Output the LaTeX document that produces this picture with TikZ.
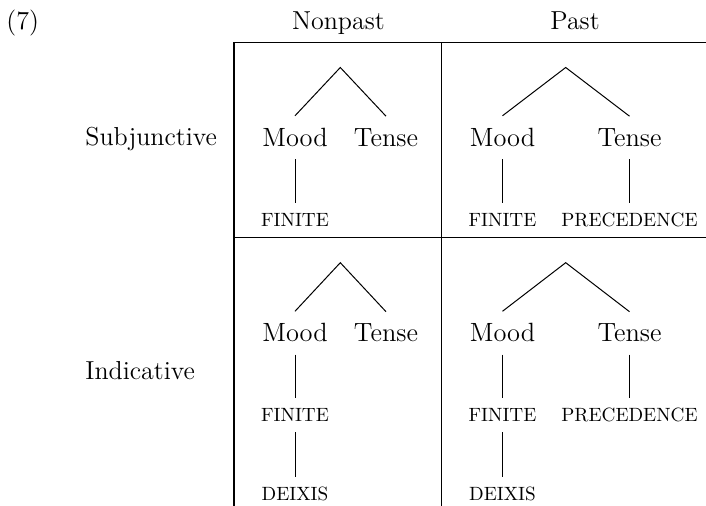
\documentclass[tikz,border=0pt]{standalone}
\begin{document}
\begin{tikzpicture}[x=0.5pt,y=-0.5pt,
  lbl/.style={inner sep=0pt, anchor=base, font=\fontsize{13}{15}\selectfont},
  cat/.style={inner xsep=0pt, inner ysep=6pt, anchor=base, font=\fontsize{13.2}{15}\selectfont},
  feat/.style={inner xsep=0pt, inner ysep=5pt, anchor=base, font=\fontsize{9.6}{11}\selectfont},
  branch/.style={line width=0.5pt},
  grid/.style={line width=0.6pt}]
\useasboundingbox (0,0) rectangle (706,506);
% example number and headers
\node[lbl, anchor=base west] (num) at (6,29.3) {(7)};
\node[lbl] (hnp) at (338.4,29.3) {Nonpast};
\node[lbl] (hp) at (575,29.3) {Past};
\node[lbl, anchor=base west] (rsub) at (85,146) {Subjunctive};
\node[lbl, anchor=base west] (rind) at (85,380) {Indicative};
% grid
\draw[grid] (234,506) -- (234,42.7) -- (706,42.7);
\draw[grid] (441.7,42.7) -- (441.7,506);
\draw[grid] (234,237.7) -- (706,237.7);
% Subjunctive / Nonpast
\coordinate (a1) at (340.3,67.5);
\node[cat] (m1) at (295,146.5) {Mood};
\node[cat] (t1) at (386,146.5) {Tense};
\node[feat] (f1) at (295,226.7) {FINITE};
\draw[branch] (m1.north) -- (a1) -- (t1.north);
\draw[branch] (m1.south) -- (f1.north);
% Subjunctive / Past
\coordinate (a2) at (565.7,67.5);
\node[cat] (m2) at (502.5,146.5) {Mood};
\node[cat] (t2) at (629.5,146.5) {Tense};
\node[feat] (f2) at (502.5,226.7) {FINITE};
\node[feat] (p2) at (629.5,226.7) {PRECEDENCE};
\draw[branch] (m2.north) -- (a2) -- (t2.north);
\draw[branch] (m2.south) -- (f2.north);
\draw[branch] (t2.south) -- (p2.north);
% Indicative / Nonpast
\coordinate (a3) at (340.3,262.7);
\node[cat] (m3) at (295,342) {Mood};
\node[cat] (t3) at (386,342) {Tense};
\node[feat] (f3) at (295,421.7) {FINITE};
\node[feat] (d3) at (295,500.7) {DEIXIS};
\draw[branch] (m3.north) -- (a3) -- (t3.north);
\draw[branch] (m3.south) -- (f3.north);
\draw[branch] (f3.south) -- (d3.north);
% Indicative / Past
\coordinate (a4) at (565.7,262.7);
\node[cat] (m4) at (502.5,342) {Mood};
\node[cat] (t4) at (629.5,342) {Tense};
\node[feat] (f4) at (502.5,421.7) {FINITE};
\node[feat] (p4) at (629.5,421.7) {PRECEDENCE};
\node[feat] (d4) at (502.5,500.7) {DEIXIS};
\draw[branch] (m4.north) -- (a4) -- (t4.north);
\draw[branch] (m4.south) -- (f4.north);
\draw[branch] (t4.south) -- (p4.north);
\draw[branch] (f4.south) -- (d4.north);
\end{tikzpicture}
\end{document}
